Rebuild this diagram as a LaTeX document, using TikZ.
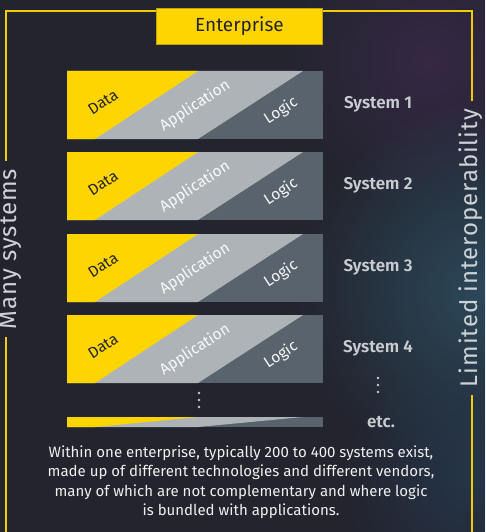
\documentclass[tikz,border=0pt]{standalone}
\usepackage{fontspec}
\setmainfont{Fira Sans}
\newfontfamily\semibold{Fira Sans SemiBold}
\usetikzlibrary{positioning,fadings}

\definecolor{bgcol}{HTML}{23242E}
\definecolor{eyyellow}{HTML}{FFD500}
\definecolor{appgray}{HTML}{AEB3B8}
\definecolor{logicgray}{HTML}{58636D}
\definecolor{labelgray}{HTML}{C9CDD2}
\definecolor{framecol}{HTML}{F2CB00}
\definecolor{glowpurple}{HTML}{3D2A4E}
\definecolor{glowteal}{HTML}{2E5266}
\definecolor{glowblue}{HTML}{27405A}

\tikzfading[name=softglow, inner color=transparent!0, outer color=transparent!100]

\begin{document}
\begin{tikzpicture}[x=1pt, y=-1pt,
		frameline/.style={draw=framecol, line width=1.8pt},
		boxlbl/.style={font=\fontsize{15.5}{15.5}\selectfont, rotate=33, inner sep=0pt},
		syslbl/.style={font=\fontsize{17}{17}\selectfont\semibold, text=labelgray},
		sidelbl/.style={font=\fontsize{24}{24}\selectfont\addfontfeatures{LetterSpace=4}, text=labelgray!90!white, rotate=90, anchor=base, inner xsep=8pt, inner ysep=0pt}]
	\useasboundingbox (0,0) rectangle (485,532);
	% background
	\fill[bgcol] (0,0) rectangle (485,532);
	\begin{scope}
		\clip (0,0) rectangle (485,532);
		\fill[glowpurple, opacity=0.7, path fading=softglow] (430,60) circle (150);
		\fill[glowteal, opacity=0.8, path fading=softglow] (485,290) circle (190);
		\fill[glowblue, opacity=0.6, path fading=softglow] (470,480) circle (130);
	\end{scope}

	% frame with side labels
	\coordinate (tl) at (6,11);
	\coordinate (tr) at (472,11);
	\coordinate (bl) at (6,532);
	\coordinate (br) at (472,532);
	\node[sidelbl] (many) at (16.5,249) {Many systems};
	\node[sidelbl] (limit) at (477.5,248) {Limited interoperability};
	\draw[frameline] (many.east -| tl) -- (tl) -- (tr) -- (limit.east -| tr);
	\draw[frameline] (many.west -| tl) -- (bl);
	\draw[frameline] (limit.west -| tr) -- (br);

	\node[draw=framecol!80!black, line width=0.6pt, fill=eyyellow, minimum width=166pt, minimum height=36pt, text=bgcol, font=\fontsize{19}{19}\selectfont] (ent) at (239.5,26) {Enterprise};

	% the systems
	\foreach \i/\y in {1/71,2/152,3/234,4/315}{
		\fill[logicgray] (67,\y) rectangle (323,\y+68);
		\fill[appgray] (67,\y) -- (303,\y) -- (198,\y+68) -- (67,\y+68) -- cycle;
		\fill[eyyellow] (67,\y) -- (198,\y) -- (95,\y+68) -- (67,\y+68) -- cycle;
		\node[boxlbl, text=bgcol] (data\i) at (103,\y+31) {Data};
		\node[boxlbl, text=white!95!gray] (app\i) at (195,\y+35) {Application};
		\node[boxlbl, text=white!92!gray] (logic\i) at (281,\y+40) {Logic};
		\node[syslbl] (sys\i) at (378,\y+33) {System \i};
	}

	% dots and the squashed bar
	\foreach \d in {0,7,14}{
		\fill[labelgray] (199,393+\d) circle (1.4);
		\fill[labelgray] (378,378+\d) circle (1.4);
	}
	\fill[logicgray] (67,417) rectangle (323,427);
	\fill[appgray] (67,417) -- (303,417) -- (198,427) -- (67,427) -- cycle;
	\fill[eyyellow] (67,417) -- (198,417) -- (95,427) -- (67,427) -- cycle;
	\node[syslbl] (etc) at (381,422) {etc.};

	\node[align=center, text=white!88!gray, font=\fontsize{15}{19.5}\selectfont] (note) at (241,482) {Within one enterprise, typically 200 to 400 systems exist,\\made up of different technologies and different vendors,\\many of which are not complementary and where logic\\is bundled with applications.};
\end{tikzpicture}
\end{document}
